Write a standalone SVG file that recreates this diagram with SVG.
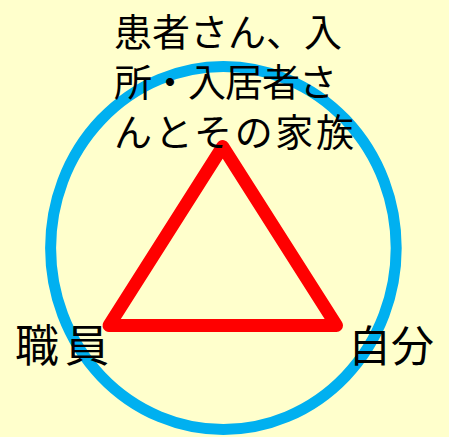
<svg xmlns="http://www.w3.org/2000/svg" width="449" height="437" viewBox="0 0 449 437">
<style>
.t{font-family:"Noto Sans CJK JP","Noto Sans CJK SC",sans-serif;fill:#000}
</style>
<rect x="0" y="0" width="449" height="437" fill="#FFFFCC"/>
<g id="connectors">
<ellipse id="circle" cx="223.4" cy="248" rx="172.8" ry="181.5" fill="none" stroke="#00B0F0" stroke-width="11"/>
<polygon id="triangle" points="222.7,146.5 109,325.5 336.5,325.5" fill="none" stroke="#FF0000" stroke-width="13" stroke-linejoin="round"/>
</g>
<g id="node-patient">
<text class="t" x="114" y="46" font-size="38" textLength="228" lengthAdjust="spacing">患者さん、入</text>
<text class="t" x="114" y="96" font-size="38" textLength="223" lengthAdjust="spacing">所・入居者さ</text>
<text class="t" x="114" y="146" font-size="38" textLength="240" lengthAdjust="spacing">んとその家族</text>
</g>
<g id="node-staff">
<text class="t" x="15" y="362" font-size="44" textLength="94" lengthAdjust="spacing">職員</text>
</g>
<g id="node-self">
<text class="t" x="348" y="362" font-size="43" textLength="86" lengthAdjust="spacing">自分</text>
</g>
</svg>
